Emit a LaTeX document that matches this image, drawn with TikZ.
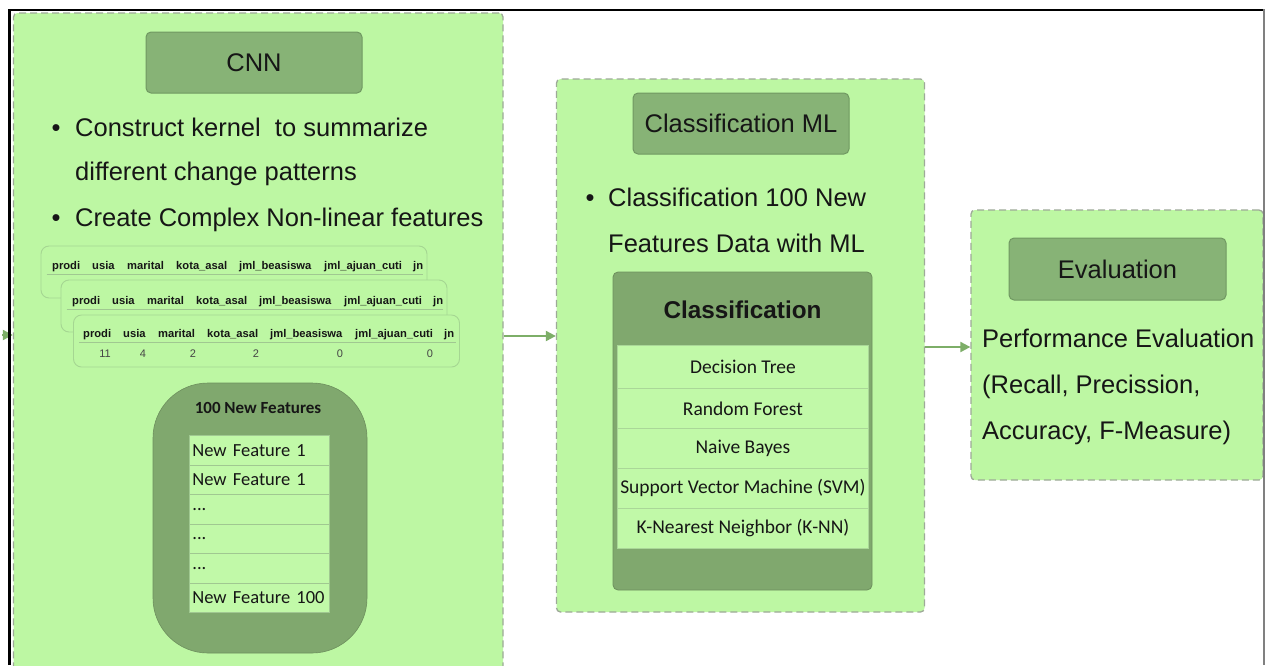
\documentclass[tikz,border=0pt]{standalone}
\usepackage{fontspec}
\setmainfont{Liberation Sans}
\newfontfamily\calfont{Carlito}
\usetikzlibrary{arrows.meta}
\definecolor{panelfill}{RGB}{189,247,163}
\definecolor{panelborder}{RGB}{158,170,152}
\definecolor{headfill}{RGB}{135,179,118}
\definecolor{headborder}{RGB}{112,152,98}
\definecolor{darkbox}{RGB}{128,168,110}
\definecolor{rowfill}{RGB}{193,249,168}
\definecolor{rowsep}{RGB}{160,200,145}
\definecolor{cardborder}{RGB}{165,214,146}
\definecolor{arrowcol}{RGB}{125,174,104}
\definecolor{txt}{RGB}{22,22,22}
\begin{document}
\begin{tikzpicture}[x=1pt,y=-1pt,
  panel/.style={draw=panelborder, fill=panelfill, dash pattern=on 7pt off 4pt, line width=1.3pt, rounded corners=4pt, inner sep=0pt},
  headbox/.style={draw=headborder, fill=headfill, line width=1pt, rounded corners=5pt, inner sep=0pt, font=\fontsize{25.5}{30}\selectfont, text=txt},
  body/.style={anchor=base west, inner sep=0pt, font=\fontsize{25.5}{30}\selectfont, text=txt},
  bul/.style={anchor=base, inner sep=0pt, font=\fontsize{25.5}{30}\selectfont, text=txt},
  card/.style={draw=cardborder, fill=panelfill, line width=0.9pt, rounded corners=8pt, inner sep=0pt, minimum width=386pt, minimum height=52pt},
  cardtxt/.style={anchor=base west, inner sep=0pt, font=\bfseries\fontsize{11.2}{13}\selectfont, text=txt},
  cardval/.style={anchor=base, inner sep=0pt, font=\fontsize{11}{13}\selectfont, text=txt!80},
  frow/.style={draw=rowsep, fill=rowfill, line width=0.8pt, minimum width=140pt, minimum height=29.5pt, text width=134pt, align=left, inner xsep=3pt, inner ysep=0pt, anchor=north west, font=\calfont\fontsize{18.5}{20}\selectfont, text=txt},
  crow/.style={draw=rowsep!70!rowfill, fill=rowfill, line width=0.8pt, minimum width=251pt, inner sep=0pt, anchor=north west, font=\calfont\fontsize{19.5}{22}\selectfont, text=txt},
  arr/.style={draw=arrowcol, line width=2pt, -{Triangle[length=10pt,width=10pt]}}
]
\useasboundingbox (0,0) rectangle (1265,665);
\clip (0,0) rectangle (1265,665);
\fill[white] (0,0) rectangle (1265,665);

% panels
\node[panel, minimum width=489.5pt, minimum height=707pt] (cnnpanel) at (258.25,366.5) {};
\node[panel, minimum width=368pt, minimum height=533pt] (mlpanel) at (740.5,345.5) {};
\node[panel, minimum width=292pt, minimum height=270pt] (evalpanel) at (1117,345) {};

% headers
\node[headbox, minimum width=216pt, minimum height=61pt] (cnnhead) at (254,62.5) {CNN};
\node[headbox, minimum width=216pt, minimum height=61pt] (mlhead) at (741,123.5) {Classification ML};
\node[headbox, minimum width=217pt, minimum height=62pt] (evalhead) at (1117.5,269) {Evaluation};

% CNN bullets
\node[bul] (b1) at (56,136) {\textbullet};
\node[body] (t1) at (75,136) {Construct kernel\ \ to summarize};
\node[body] (t2) at (75,180) {different change patterns};
\node[bul] (b2) at (56,226) {\textbullet};
\node[body] (t3) at (75,226) {Create Complex Non-linear features};

% data cards
\node[card] (card1) at (234,272) {};
\draw[rowsep, line width=0.8pt] ([xshift=6pt]card1.west |- 0,274) -- ([xshift=-4pt]card1.east |- 0,274);
\foreach \w/\o [count=\i] in {prodi/0, usia/40, marital/75, kota\_asal/124, jml\_beasiswa/187, jml\_ajuan\_cuti/272, jn/361}
  \node[cardtxt] (ca\i) at (52+\o,269) {\w};
\node[card] (card2) at (254,306) {};
\draw[rowsep, line width=0.8pt] ([xshift=6pt]card2.west |- 0,309) -- ([xshift=-4pt]card2.east |- 0,309);
\foreach \w/\o [count=\i] in {prodi/0, usia/40, marital/75, kota\_asal/124, jml\_beasiswa/187, jml\_ajuan\_cuti/272, jn/361}
  \node[cardtxt] (cb\i) at (72+\o,304) {\w};
\node[card] (card3) at (266.5,341) {};
\draw[rowsep, line width=0.8pt] ([xshift=6pt]card3.west |- 0,342) -- ([xshift=-4pt]card3.east |- 0,342);
\foreach \w/\o [count=\i] in {prodi/0, usia/40, marital/75, kota\_asal/124, jml\_beasiswa/187, jml\_ajuan\_cuti/272, jn/361}
  \node[cardtxt] (cc\i) at (83+\o,337) {\w};
\foreach \v/\x [count=\i] in {11/105, 4/143, 2/193, 2/256, 0/340, 0/430}
  \node[cardval] (cv\i) at (\x,357) {\v};

% 100 new features
\node[fill=darkbox, draw=darkbox!85!black, line width=0.6pt, rounded corners=55pt, minimum width=214pt, minimum height=270pt, inner sep=0pt] (featbox) at (260,518) {};
\node[inner sep=0pt, font=\calfont\bfseries\fontsize{17}{20}\selectfont, text=txt] (feattitle) at (258,408) {100 New Features};
\node[frow] (f1) at (189,435) {New Feature 1};
\node[frow] (f2) at (189,464.5) {New Feature 1};
\node[frow] (f3) at (189,494) {...};
\node[frow] (f4) at (189,523.5) {...};
\node[frow] (f5) at (189,553) {...};
\node[frow] (f6) at (189,582.5) {New Feature 100};

% classification ML bullet
\node[bul] (b3) at (590,206) {\textbullet};
\node[body] (t4) at (608,206) {Classification 100 New};
\node[body] (t5) at (608,252) {Features Data with ML};

% classification table
\node[fill=darkbox, draw=darkbox!85!black, line width=0.8pt, rounded corners=5pt, minimum width=259pt, minimum height=318pt, inner sep=0pt] (ctable) at (742.5,431) {};
\node[inner sep=0pt, font=\bfseries\fontsize{24.3}{28}\selectfont, text=txt] (ctitle) at (742.5,310) {Classification};
\node[crow, minimum height=43pt] (r1) at (617,345) {Decision Tree};
\node[crow, minimum height=40pt] (r2) at (617,388) {Random Forest};
\node[crow, minimum height=40pt] (r3) at (617,428) {Naive Bayes};
\node[crow, minimum height=40pt] (r4) at (617,468) {Support Vector Machine (SVM)};
\node[crow, minimum height=40pt] (r5) at (617,508) {K-Nearest Neighbor (K-NN)};

% evaluation text
\node[body] (t6) at (982,347) {Performance Evaluation};
\node[body] (t7) at (982,393) {(Recall, Precission,};
\node[body] (t8) at (982,439) {Accuracy, F-Measure)};

% connectors
\coordinate (inarrow) at (2,335);
\draw[arr] (inarrow) -- (cnnpanel.west |- inarrow);
\draw[arr] (cnnpanel.east |- 0,336) -- (mlpanel.west |- 0,336);
\draw[arr] (mlpanel.east |- 0,347) -- (evalpanel.west |- 0,347);

% frame
\draw[black, line width=2.5pt] (9.5,665) -- (9.5,10) -- (1263,10);
\draw[gray, line width=2pt] (1264,9) -- (1264,665);
\end{tikzpicture}
\end{document}
